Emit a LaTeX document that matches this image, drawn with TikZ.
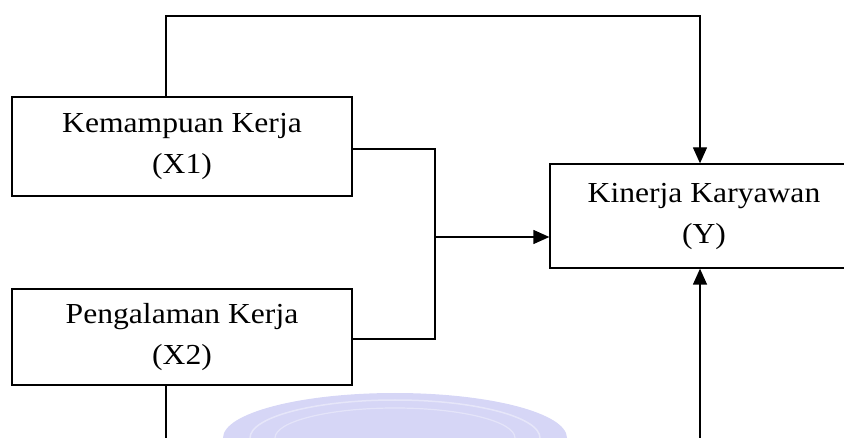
\documentclass[tikz,border=0pt]{standalone}
\usepackage{fontspec}
\setmainfont{Liberation Serif}[FakeStretch=1.09]
\usetikzlibrary{arrows.meta}
\definecolor{wmark}{RGB}{214,214,246}
\tikzset{
  varbox/.style={draw, line width=1.3pt, align=center, inner sep=0pt,
    font=\fontsize{29}{41}\selectfont},
  link/.style={line width=1.3pt},
  arrowlink/.style={link, -{Triangle[length=16pt,width=14pt]}}
}
\begin{document}
\begin{tikzpicture}[x=1pt,y=-1pt]
\useasboundingbox (0,0) rectangle (844,438);
% faint watermark arch along the bottom edge
\begin{scope}
\clip (0,0) rectangle (844,438);
\fill[wmark] (223,438) arc[start angle=180,end angle=360,x radius=172,y radius=45] -- cycle;
\draw[white, line width=1.5pt, opacity=0.4] (250,438) arc[start angle=180,end angle=360,x radius=145,y radius=38];
\draw[white, line width=1.2pt, opacity=0.35] (275,438) arc[start angle=180,end angle=360,x radius=120,y radius=30];
\end{scope}
% variable boxes
\node[varbox, minimum width=340pt, minimum height=99pt] (x1) at (182,146.5) {Kemampuan Kerja\\(X1)};
\node[varbox, minimum width=340pt, minimum height=96pt] (x2) at (182,337) {Pengalaman Kerja\\(X2)};
\node[varbox, minimum width=308pt, minimum height=104pt] (y) at (704,216) {Kinerja Karyawan\\(Y)};
% routing points
\coordinate (tl) at (166,16);
\coordinate (tr) at (700,16);
\coordinate (jn) at (435,237);
\coordinate (bl) at (166,438);
\coordinate (br) at (700,438);
% X1 directly to Y over the top
\draw[arrowlink] (tl |- x1.north) -- (tl) -- (tr) -- (tr |- y.north);
% joint path of X1 and X2 into Y
\draw[link] (x1.east |- 0,149) -| (jn) |- (x2.east |- 0,339);
\draw[arrowlink] (jn) -- (jn -| y.west);
% X2 directly to Y along the bottom
\draw[link] (bl |- x2.south) -- (bl);
\draw[arrowlink] (br) -- (br |- y.south);
\end{tikzpicture}
\end{document}
